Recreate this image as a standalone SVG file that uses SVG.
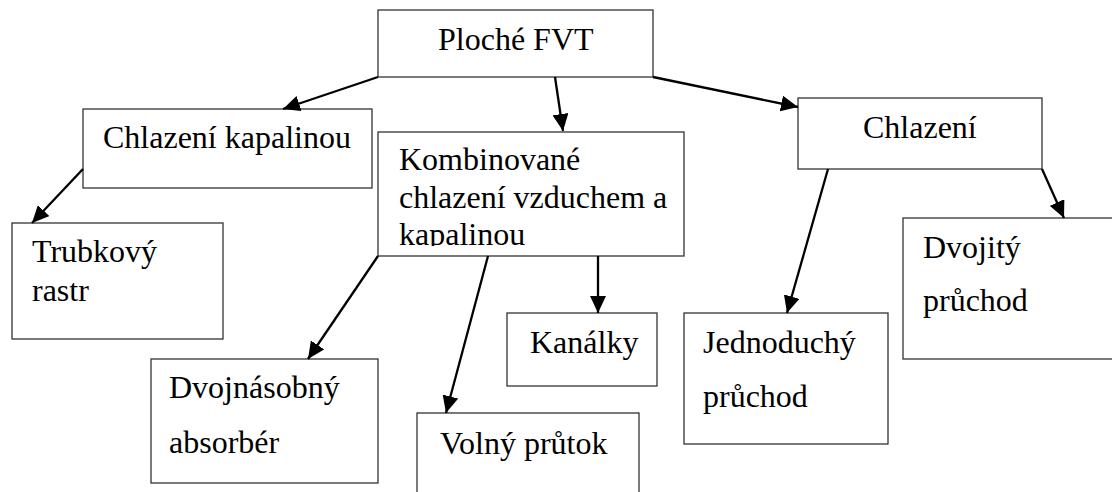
<svg xmlns="http://www.w3.org/2000/svg" width="1112" height="492" viewBox="0 0 1112 492">
<style>
.box{fill:#fff;stroke:#333;stroke-width:1.3}
.t{font-family:"Liberation Serif","Times New Roman",serif;font-size:32px;fill:#000}
.c{stroke:#000;stroke-width:2.3;fill:none;marker-end:url(#ah)}
</style>
<defs>
<marker id="ah" markerUnits="userSpaceOnUse" markerWidth="18" markerHeight="16" refX="17" refY="8" orient="auto">
<path d="M0,0 L17,8 L0,16 Z" fill="#000"/>
</marker>
<clipPath id="kclip"><rect x="378" y="132" width="306" height="114"/></clipPath>
</defs>
<rect width="1112" height="492" fill="#fff"/>
<g id="n-ploche"><rect class="box" x="378" y="10" width="275" height="67"/><text class="t" x="438" y="50">Ploché FVT</text></g>
<g id="n-kapalinou"><rect class="box" x="83" y="109" width="289" height="79"/><text class="t" x="103" y="148">Chlazení kapalinou</text></g>
<g id="n-trubkovy"><rect class="box" x="12" y="223" width="211" height="116"/><text class="t" x="32" y="262">Trubkový</text><text class="t" x="32" y="301">rastr</text></g>
<g id="n-kombinovane"><rect class="box" x="378" y="132" width="306" height="124"/><g clip-path="url(#kclip)"><text class="t" x="399" y="170">Kombinované</text><text class="t" x="399" y="208">chlazení vzduchem a</text><text class="t" x="399" y="245">kapalinou</text></g></g>
<g id="n-chlazeni"><rect class="box" x="798" y="98" width="244" height="71"/><text class="t" x="863" y="138">Chlazení</text></g>
<g id="n-dvojity"><rect class="box" x="903" y="218" width="220" height="141"/><text class="t" x="923" y="258">Dvojitý</text><text class="t" x="923" y="311">průchod</text></g>
<g id="n-jednoduchy"><rect class="box" x="684" y="313" width="204" height="131"/><text class="t" x="703" y="353">Jednoduchý</text><text class="t" x="703" y="407">průchod</text></g>
<g id="n-dvojnasobny"><rect class="box" x="151" y="359" width="227" height="124"/><text class="t" x="169" y="398">Dvojnásobný</text><text class="t" x="169" y="453">absorbér</text></g>
<g id="n-volny"><rect class="box" x="417" y="413" width="222" height="90"/><text class="t" x="440" y="454">Volný průtok</text></g>
<g id="n-kanalky"><rect class="box" x="507" y="313" width="150" height="73"/><text class="t" x="530" y="353">Kanálky</text></g>
<g id="connectors">
<line class="c" x1="378" y1="77" x2="283" y2="109"/>
<line class="c" x1="555" y1="77" x2="563" y2="131"/>
<line class="c" x1="653" y1="77" x2="798" y2="107"/>
<line class="c" x1="83" y1="169" x2="32" y2="223"/>
<line class="c" x1="378" y1="256" x2="308" y2="359"/>
<line class="c" x1="488" y1="256" x2="446" y2="413"/>
<line class="c" x1="598" y1="256" x2="598" y2="313"/>
<line class="c" x1="828" y1="169" x2="787" y2="313"/>
<line class="c" x1="1042" y1="169" x2="1064" y2="218"/>
</g>
</svg>
